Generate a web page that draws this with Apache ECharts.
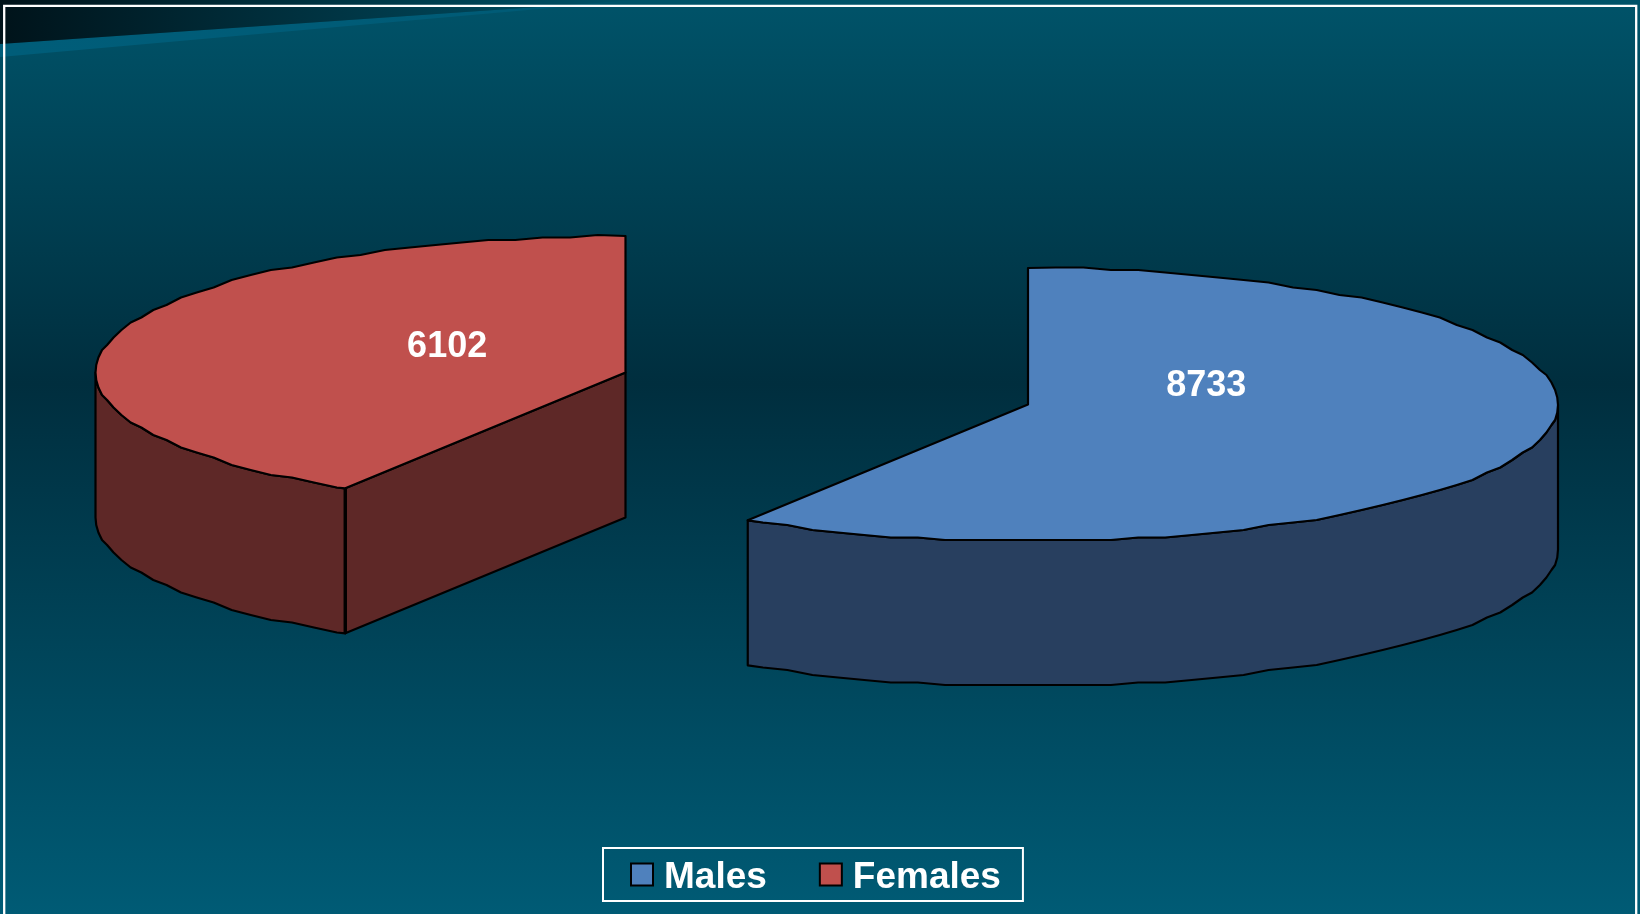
<!DOCTYPE html>
<html>
<head>
<meta charset="utf-8">
<style>html,body{margin:0;padding:0;background:#005068}#c{width:1640px;height:914px}</style>
<script src="https://cdn.jsdelivr.net/npm/echarts@6/dist/echarts.min.js"></script>
</head>
<body>
<div id="c"></div>
<script>
const categories = ['Males', 'Females'];
const values = [8733, 6102];
const topColors = ['#4f81bd', '#c0504d'];
const wallColors = ['#283f5f', '#5e2827'];

// layout of the exploded tilted pie
const centers = [[1028, 404.5], [625.5, 372.5]];
const labelLift = [32, 12];
const RX = 530, RY = 136.5, DEPTH = 145, LABEL_R = 0.35, STEP = 3, GRID = 2.5;

const total = values.reduce((a, b) => a + b, 0);
let acc = 0;
const spans = values.map(v => { const s = acc; acc += v; return [s / total * 360, acc / total * 360]; });

const rad = d => d * Math.PI / 180;
function rim(cx, cy, deg, snap) {
  const x = cx + RX * Math.sin(rad(deg));
  let y = cy - RY * Math.cos(rad(deg));
  if (snap) y = Math.round(y / GRID) * GRID;
  return [x, y];
}
function arc(cx, cy, a, b) {
  const pts = [rim(cx, cy, a, false)];
  for (let d = Math.ceil(a / STEP + 0.01) * STEP; d < b; d += STEP) pts.push(rim(cx, cy, d, true));
  pts.push(rim(cx, cy, b, false));
  return pts;
}
const down = p => [p[0], p[1] + DEPTH];

function sliceRenderer(i) {
  return function (params, api) {
    const value = api.value(0);
    const start = api.value(1);
    const end = start + value / total * 360;
    const [cx, cy] = centers[i];
    const children = [];
    const line = { stroke: '#000', lineWidth: 2.2, lineJoin: 'round' };
    const wall = pts => children.push({
      type: 'polygon', shape: { points: pts },
      style: Object.assign({ fill: wallColors[i] }, line)
    });
    // cut faces that look towards the viewer
    if (Math.sin(rad(start)) < -1e-6) {
      const a = [cx, cy], b = rim(cx, cy, start, false);
      wall([a, b, down(b), down(a)]);
    }
    if (Math.sin(rad(end)) > 1e-6) {
      const a = [cx, cy], b = rim(cx, cy, end, false);
      wall([a, b, down(b), down(a)]);
    }
    // outer wall on the near half of the ellipse
    const wa = Math.max(start, 90), wb = Math.min(end, 270);
    if (wb > wa) {
      const upper = arc(cx, cy, wa, wb);
      wall(upper.concat(upper.slice().reverse().map(down)));
    }
    // heavier vertical edge where a cut face meets the outer wall
    if (Math.sin(rad(start)) < -1e-6) {
      const b = rim(cx, cy, start, false);
      children.push({
        type: 'line', shape: { x1: b[0], y1: b[1], x2: b[0], y2: b[1] + DEPTH },
        style: { stroke: '#000', lineWidth: 3.4 }
      });
    }
    // top face
    children.push({
      type: 'polygon', shape: { points: [[cx, cy]].concat(arc(cx, cy, start, end)) },
      style: Object.assign({ fill: topColors[i] }, line)
    });
    // value label
    const mid = (start + end) / 2;
    children.push({
      type: 'text', z2: 10,
      style: {
        x: cx + LABEL_R * RX * Math.sin(rad(mid)),
        y: cy - LABEL_R * RY * Math.cos(rad(mid)) - labelLift[i],
        text: String(value), fill: '#fff',
        font: 'bold 36px "Liberation Sans", Arial, sans-serif',
        align: 'center', verticalAlign: 'middle'
      }
    });
    return { type: 'group', children };
  };
}

const legendFont = { color: '#fff', fontSize: 37, lineHeight: 38, fontWeight: 'bold', fontFamily: '"Liberation Sans", Arial, sans-serif' };

const chart = echarts.init(document.getElementById('c'), null, { renderer: 'canvas' });
chart.setOption({
  animation: false,
  graphic: [
    { type: 'rect', z: -10, silent: true, shape: { x: 0, y: 0, width: 1640, height: 914 },
      style: { fill: new echarts.graphic.LinearGradient(0, 0, 0, 1, [
        { offset: 0, color: '#005369' },
        { offset: 0.42, color: '#002e3e' },
        { offset: 1, color: '#005b75' }
      ]) } },
    { type: 'polygon', z: -9, silent: true, shape: { points: [[0, 44], [640, 0], [0, 57]] },
      style: { fill: new echarts.graphic.LinearGradient(0, 0, 1, 0, [
        { offset: 0, color: '#005d79' },
        { offset: 0.8, color: '#005b76' },
        { offset: 1, color: '#005369' }
      ]) } },
    { type: 'polygon', z: -8, silent: true, shape: { points: [[0, 0], [640, 0], [0, 44]] },
      style: { fill: new echarts.graphic.LinearGradient(0, 0, 1, 0, [
        { offset: 0, color: '#00131a' },
        { offset: 1, color: '#005369' }
      ]) } },
    { type: 'rect', z: -7, silent: true, shape: { x: 4.2, y: 5.8, width: 1632, height: 940 },
      style: { fill: 'none', stroke: '#fff', lineWidth: 2.3 } }
  ],
  legend: {
    left: 603, top: 848,
    padding: [5, 22, 5, 27],
    orient: 'horizontal',
    itemWidth: 22, itemHeight: 22, itemGap: 52,
    selectedMode: false,
    borderColor: '#fff', borderWidth: 2,
    formatter: '{t|{name}}',
    textStyle: Object.assign({}, legendFont, {
      padding: [0, 0, 0, 6],
      rich: { t: Object.assign({}, legendFont, { padding: [6, 0, 0, 0] }) }
    }),
    data: categories.map((name, i) => ({
      name, icon: 'rect',
      itemStyle: { color: topColors[i], borderColor: '#000', borderWidth: 2 }
    }))
  },
  series: categories.map((name, i) => ({
    type: 'custom',
    name,
    coordinateSystem: 'none',
    silent: true,
    itemStyle: { color: topColors[i] },
    renderItem: sliceRenderer(i),
    data: [[values[i], spans[i][0]]]
  }))
});
</script>
</body>
</html>
